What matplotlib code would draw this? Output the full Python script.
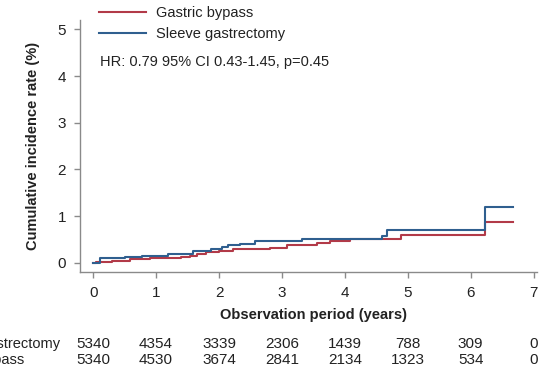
import matplotlib
matplotlib.use("Agg")
import matplotlib.pyplot as plt
import matplotlib.transforms as mtransforms

plt.rcParams['font.family'] = ['Liberation Sans', 'DejaVu Sans']

# Step data (time in years, cumulative incidence %)
bypass_t = [0, 0.05, 0.3, 0.58, 0.9, 1.22, 1.4, 1.54, 1.65, 1.8, 2.0, 2.23, 2.81, 3.08, 3.55, 3.77, 4.08, 4.9, 6.23, 6.67]
bypass_y = [0, 0.02, 0.04, 0.07, 0.09, 0.11, 0.13, 0.15, 0.19, 0.22, 0.25, 0.29, 0.32, 0.38, 0.43, 0.47, 0.50, 0.59, 0.88, 0.88]

sleeve_t = [0, 0.1, 0.5, 0.77, 1.19, 1.59, 1.88, 2.05, 2.15, 2.33, 2.57, 3.32, 4.59, 4.67, 6.23, 6.67]
sleeve_y = [0, 0.09, 0.12, 0.14, 0.18, 0.24, 0.29, 0.33, 0.38, 0.41, 0.46, 0.50, 0.58, 0.69, 1.19, 1.19]

risk_times = [0, 1, 2, 3, 4, 5, 6, 7]
risk_sleeve = [5340, 4354, 3339, 2306, 1439, 788, 309, 0]
risk_bypass = [5340, 4530, 3674, 2841, 2134, 1323, 534, 0]

labels = ["Gastric bypass", "Sleeve gastrectomy"]
hr_text = "HR: 0.79 95% CI 0.43-1.45, p=0.45"

RED = '#B23A48'
BLUE = '#2F5F8F'
GRAY = '#8a8a8a'
TXT = '#222222'
FS = 10.5
FS_NUM = 11

W, H = 548, 367
fig = plt.figure(figsize=(W / 100, H / 100), dpi=100)
ax = fig.add_axes([80 / W, 1 - 272 / H, (536.7 - 80) / W, (272 - 20) / H])

ax.step(bypass_t, bypass_y, where='post', color=RED, lw=1.5, label=labels[0])
ax.step(sleeve_t, sleeve_y, where='post', color=BLUE, lw=1.5, label=labels[1])

ax.set_xlim(-0.21, 7.05)
ax.set_ylim(-0.2, 5.2)
ax.set_xticks(range(0, 8))
ax.set_yticks(range(0, 6))
for s in ['top', 'right']:
    ax.spines[s].set_visible(False)
for s in ['left', 'bottom']:
    ax.spines[s].set_color(GRAY)
    ax.spines[s].set_linewidth(1.0)
ax.tick_params(direction='out', length=4, width=1, color=GRAY, labelsize=FS_NUM,
               labelcolor=TXT, pad=6)

leg = ax.legend(loc='upper left', bbox_to_anchor=(99 / W, 1 - 6 / H),
                bbox_transform=fig.transFigure, frameon=False, fontsize=FS,
                handlelength=3.2, handletextpad=0.7, labelspacing=0.5,
                borderpad=0, borderaxespad=0)
for t in leg.get_texts():
    t.set_color(TXT)

fig.text(100 / W, 1 - 62 / H, hr_text, fontsize=FS, color=TXT, ha='left', va='center')

fig.text(33 / W, 1 - 146 / H, "Cumulative incidence rate (%)", rotation=90,
         fontsize=FS, fontweight='bold', color=TXT, ha='center', va='center')
fig.text(313 / W, 1 - 315 / H, "Observation period (years)",
         fontsize=FS, fontweight='bold', color=TXT, ha='center', va='center')

trans = mtransforms.blended_transform_factory(ax.transData, fig.transFigure)
for x, a, b in zip(risk_times, risk_sleeve, risk_bypass):
    ax.text(x, 1 - 344 / H, str(a), transform=trans, ha='center', va='center',
            fontsize=FS_NUM, color=TXT, clip_on=False)
    ax.text(x, 1 - 360 / H, str(b), transform=trans, ha='center', va='center',
            fontsize=FS_NUM, color=TXT, clip_on=False)

t1 = fig.text(60 / W, 1 - 344 / H, labels[1], ha='right', va='center',
              fontsize=FS, color=TXT)
fig.canvas.draw()
bb = t1.get_window_extent()
left = (bb.x0 - 4) / W
fig.text(left, 1 - 360 / H, labels[0], ha='left', va='center', fontsize=FS, color=TXT)

fig.savefig('out.png', dpi=100)
